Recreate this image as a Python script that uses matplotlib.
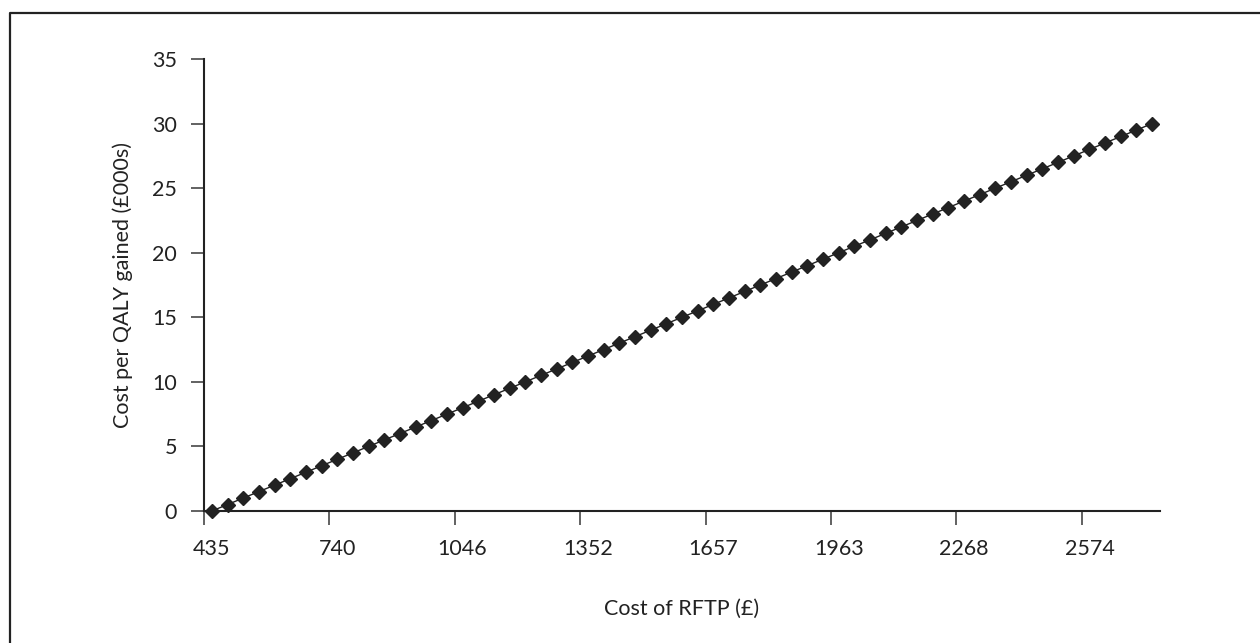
import matplotlib
matplotlib.use("Agg")
import matplotlib.pyplot as plt
from matplotlib.lines import Line2D

# cost per QALY gained (£000s), one value per cost step of RFTP
cost_per_qaly = [
    0.0, 0.5, 1.0, 1.5, 2.0, 2.5, 3.0, 3.5, 4.0, 4.5,
    5.0, 5.5, 6.0, 6.5, 7.0, 7.5, 8.0, 8.5, 9.0, 9.5,
    10.0, 10.5, 11.0, 11.5, 12.0, 12.5, 13.0, 13.5, 14.0, 14.5,
    15.0, 15.5, 16.0, 16.5, 17.0, 17.5, 18.0, 18.5, 19.0, 19.5,
    20.0, 20.5, 21.0, 21.5, 22.0, 22.5, 23.0, 23.5, 24.0, 24.5,
    25.0, 25.5, 26.0, 26.5, 27.0, 27.5, 28.0, 28.5, 29.0, 29.5,
    30.0,
]
# category labels shown on the x axis (every 8th category)
cost_labels = ["435", "740", "1046", "1352", "1657", "1963", "2268", "2574"]
label_every = 8
y_ticks = [0, 5, 10, 15, 20, 25, 30, 35]

plt.rcParams['font.family'] = ['Lato', 'DejaVu Sans']
FS = 15.5

fig = plt.figure(figsize=(12.6, 6.43), dpi=100)
ax = fig.add_axes([204 / 1260, 1 - 511 / 643, (1160 - 204) / 1260, (511 - 59) / 643])

n = len(cost_per_qaly)
xs = list(range(n))
ax.plot(xs, cost_per_qaly, color='#222222', lw=1.0, marker='D', ms=7,
        mfc='#222222', mec='#222222', zorder=3, clip_on=False)

ax.set_xlim(-0.5, n - 0.5)
ax.set_ylim(0, 35)

# major ticks between categories, labels at category centres
major = [-0.5 + label_every * k for k in range(len(cost_labels))]
minor = [label_every * k for k in range(len(cost_labels))]
ax.set_xticks(major)
ax.set_xticklabels([])
ax.set_xticks(minor, minor=True)
ax.set_xticklabels(cost_labels, minor=True)
ax.tick_params(axis='x', which='major', direction='out', length=10, width=1.3,
               color='#555555')
ax.tick_params(axis='x', which='minor', length=0, pad=20, labelsize=FS,
               labelcolor='#222222')

ax.set_yticks(y_ticks)
ax.tick_params(axis='y', direction='out', length=9.5, width=1.3, color='#555555',
               pad=10, labelsize=FS, labelcolor='#222222')

for side in ['top', 'right']:
    ax.spines[side].set_visible(False)
for side in ['left', 'bottom']:
    ax.spines[side].set_color('#222222')
    ax.spines[side].set_linewidth(1.5)

ax.set_xlabel("Cost of RFTP (£)", fontsize=FS, color='#222222')
ax.set_ylabel("Cost per QALY gained (£000s)", fontsize=FS, color='#222222')
ax.xaxis.set_label_coords(0.5, -0.195)
ax.yaxis.set_label_coords(-0.074, 0.5)

# frame around the figure (top and left edges visible)
fig.add_artist(Line2D([10 / 1260, 10 / 1260, 1.0], [0.0, 1 - 13 / 643, 1 - 13 / 643],
                      transform=fig.transFigure, color='#222222', lw=1.6))

fig.savefig("out.png", dpi=100, facecolor='white')
